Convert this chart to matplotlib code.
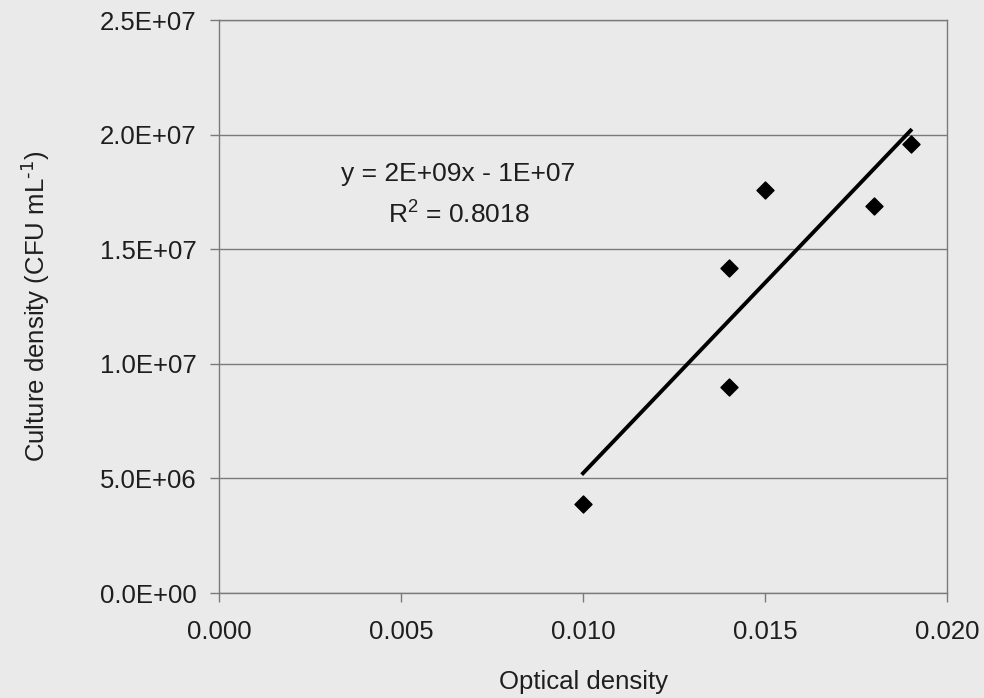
import numpy as np
import matplotlib.pyplot as plt
from matplotlib.ticker import FuncFormatter

# === Datos ===
optical_density = [0.010, 0.014, 0.014, 0.015, 0.018, 0.019]
culture_density = [3.9e6, 9.0e6, 14.2e6, 17.6e6, 16.9e6, 19.6e6]

x_ticks = [0.000, 0.005, 0.010, 0.015, 0.020]
y_ticks = [0, 5e6, 1e7, 1.5e7, 2e7, 2.5e7]

plt.rcParams["font.family"] = ["Liberation Sans", "DejaVu Sans"]
plt.rcParams["mathtext.default"] = "regular"

bg = "#eaeaea"
txt = "#1e1e1e"
fig = plt.figure(figsize=(9.84, 6.98), dpi=100, facecolor=bg)
ax = fig.add_axes([0.2226, 0.1504, 0.7398, 0.8209], facecolor=bg)

# === Puntos ===
ax.scatter(optical_density, culture_density, marker="D", s=75,
           color="black", zorder=3)

# === Línea de tendencia ===
slope, intercept = np.polyfit(optical_density, culture_density, 1)
xs = np.array([min(optical_density), max(optical_density)])
ax.plot(xs, slope * xs + intercept, color="black", lw=2.8, zorder=2)

ax.set_xlim(0, 0.020)
ax.set_ylim(0, 2.5e7)
ax.set_xticks(x_ticks)
ax.set_yticks(y_ticks)
ax.xaxis.set_major_formatter(FuncFormatter(lambda v, p: f"{v:.3f}"))
ax.yaxis.set_major_formatter(FuncFormatter(lambda v, p: f"{v:.1E}"))

ax.grid(True, axis="y", color="#7a7a7a", lw=1)
ax.set_axisbelow(True)
for s in ax.spines.values():
    s.set_color("#7a7a7a")
    s.set_linewidth(1)

ax.tick_params(axis="both", labelsize=18.5, colors="#7a7a7a",
               labelcolor=txt, length=6.5, width=1)
ax.tick_params(axis="x", pad=13)
ax.tick_params(axis="y", pad=9.5)

ax.set_xlabel("Optical density", fontsize=18.5, color=txt)
ax.set_ylabel(r"Culture density (CFU mL$^{\text{-1}}$)", fontsize=18.5, color=txt)
ax.xaxis.set_label_coords(0.5, -0.135)
ax.yaxis.set_label_coords(-0.230, 0.5)

# === Ecuación ===
ax.text(0.00658, 1.83e7, "y = 2E+09x - 1E+07", fontsize=19,
        ha="center", va="center", color=txt)
ax.text(0.00658, 1.65e7, "R$^2$ = 0.8018", fontsize=19,
        ha="center", va="center", color=txt)

plt.savefig("out.png", dpi=100, facecolor=bg)
